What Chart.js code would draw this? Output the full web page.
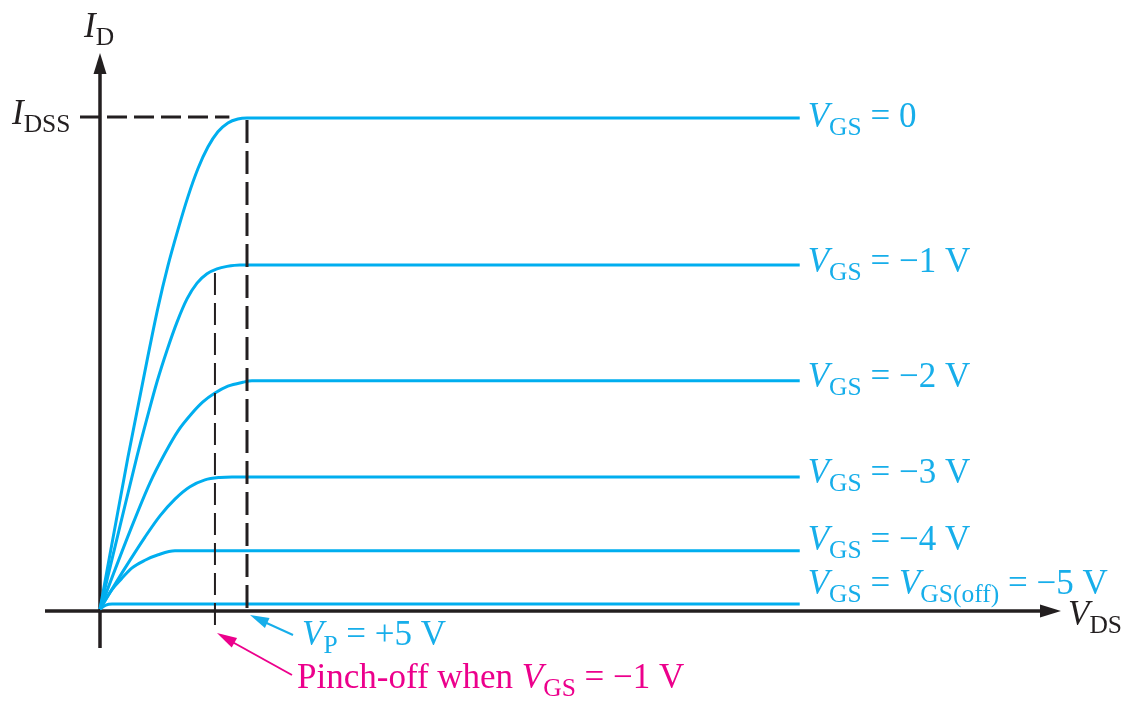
<!DOCTYPE html>
<html>
<head>
<meta charset="utf-8">
<script src="https://cdn.jsdelivr.net/npm/chart.js@4.4.1/dist/chart.umd.min.js"></script>
<style>
  html, body { margin: 0; padding: 0; background: #fff; }
</style>
</head>
<body>
<canvas id="chart" width="1128" height="701"></canvas>
<script>
// JFET drain characteristics (V_DS in volts, I_D in mA, I_DSS = 10)
const vgsLabels = ["0", "\u22121 V", "\u22122 V", "\u22123 V", "\u22124 V", "\u22125 V"]

const vds0 = [0, 0.95, 1.63, 1.97, 2.31, 2.65, 2.99, 3.33, 3.67, 4.01, 4.35, 4.69, 5.0, 23.8]
const id0  = [0.04, 3.12, 5.17, 6.15, 7.00, 7.73, 8.40, 8.97, 9.41, 9.72, 9.90, 9.98, 10, 10]

const vds1 = [0, 0.68, 1.26, 1.60, 1.94, 2.28, 2.62, 2.96, 3.30, 3.64, 3.98, 4.32, 4.76, 23.8]
const id1  = [0.04, 1.72, 3.14, 3.91, 4.65, 5.29, 5.86, 6.33, 6.65, 6.84, 6.94, 6.99, 7.02, 7.02]

const vds2 = [0, 1.02, 1.70, 2.21, 2.65, 3.10, 3.50, 3.91, 4.35, 4.86, 5.17, 23.8]
const id2  = [0.04, 1.62, 2.60, 3.20, 3.65, 3.99, 4.24, 4.42, 4.56, 4.64, 4.67, 4.67]

const vds3 = [0, 0.85, 1.53, 2.04, 2.55, 3.06, 3.57, 4.08, 4.49, 23.8]
const id3  = [0.04, 0.87, 1.50, 1.93, 2.27, 2.52, 2.66, 2.71, 2.72, 2.72]

const vds4 = [0, 0.40, 0.74, 1.08, 1.53, 1.98, 2.55, 23.8]
const id4  = [0.04, 0.43, 0.66, 0.87, 1.03, 1.14, 1.22, 1.22]

const vds5 = [0, 0.20, 0.41, 23.8]
const id5  = [0.04, 0.12, 0.14, 0.14]

const idss = 10        // mA
const vp = 5           // V
const pinchVds1 = 3.91 // pinch-off point for V_GS = -1 V
const vdsEnd = 23.8

// layout
const originX = 100, originY = 611, pxPerV = 29.4, pxPerMA = 49.3
const blue = "#00aeef", textBlue = "#17aeea", ink = "#231f20", magenta = "#ec008c"
const serif = "'Liberation Serif', 'Times New Roman', serif"

const curves = [[vds0, id0], [vds1, id1], [vds2, id2], [vds3, id3], [vds4, id4], [vds5, id5]]
const datasets = curves.map(([xs, ys], i) => ({
  label: "VGS = " + vgsLabels[i],
  data: xs.map((v, k) => ({ x: v, y: ys[k] })),
  borderColor: blue,
  borderWidth: 3,
  pointRadius: 0,
  cubicInterpolationMode: "monotone",
  fill: false
}))

function drawRich(ctx, x, y, parts, color) {
  ctx.fillStyle = color
  ctx.textAlign = "left"
  ctx.textBaseline = "alphabetic"
  parts.forEach(p => {
    let size = p.sub ? 25.5 : 35
    ctx.font = (p.it ? "italic " : "") + size + "px " + serif
    ctx.fillText(p.t, x, y + (p.sub ? 8 : 0))
    x += ctx.measureText(p.t).width
  })
}

function arrowHead(ctx, fx, fy, tx, ty, len, half) {
  const a = Math.atan2(ty - fy, tx - fx)
  const bx = tx - len * Math.cos(a), by = ty - len * Math.sin(a)
  ctx.beginPath()
  ctx.moveTo(tx, ty)
  ctx.lineTo(bx + half * Math.sin(a), by - half * Math.cos(a))
  ctx.lineTo(bx - half * Math.sin(a), by + half * Math.cos(a))
  ctx.closePath()
  ctx.fill()
}

function seg(ctx, x1, y1, x2, y2) {
  ctx.beginPath()
  ctx.moveTo(x1, y1)
  ctx.lineTo(x2, y2)
  ctx.stroke()
}

const sketch = {
  id: "sketch",
  beforeDatasetsDraw(chart) {
    const { ctx, scales: { x, y } } = chart
    const x0 = x.getPixelForValue(0), y0 = y.getPixelForValue(0)
    ctx.save()
    ctx.strokeStyle = ink
    ctx.fillStyle = ink
    ctx.lineWidth = 3.5
    // I_D axis
    seg(ctx, x0, y0 + 37, x0, 72)
    arrowHead(ctx, x0, y0, x0, 53, 21, 6.5)
    // V_DS axis
    seg(ctx, x0 - 55, y0, 1042, y0)
    arrowHead(ctx, x0, y0, 1061, y0, 21, 6.5)
    ctx.restore()
  },
  afterDatasetsDraw(chart) {
    const { ctx, scales: { x, y } } = chart
    const X = v => x.getPixelForValue(v), Y = v => y.getPixelForValue(v)
    ctx.save()
    ctx.strokeStyle = ink
    // I_DSS level and V_P
    ctx.lineWidth = 3
    ctx.setLineDash([20, 7])
    seg(ctx, X(0) - 20, Y(idss) - 1, X(4.4), Y(idss) - 1)
    ctx.setLineDash([23, 8])
    seg(ctx, X(vp), Y(idss) + 2, X(vp), Y(0) + 1)
    // pinch-off for V_GS = -1 V
    ctx.lineWidth = 2
    ctx.setLineDash([22, 8])
    seg(ctx, X(pinchVds1), Y(id1[id1.length - 1]) + 8, X(pinchVds1), Y(0) + 17)
    ctx.setLineDash([])

    // curve labels
    const lx = X(vdsEnd) + 8
    const dy = [9, 7, 6, 6, -1, -10]
    vgsLabels.forEach((lab, i) => {
      const level = curves[i][1][curves[i][1].length - 1]
      let parts = [{ t: "V", it: true }, { t: "GS", sub: true }, { t: " = " }]
      if (i === 5) parts.push({ t: "V", it: true }, { t: "GS(off)", sub: true }, { t: " = " })
      parts.push({ t: lab })
      drawRich(ctx, lx, Y(level) + dy[i], parts, textBlue)
    })

    // axis titles
    drawRich(ctx, 1068, Y(0) + 14, [{ t: "V", it: true }, { t: "DS", sub: true }], ink)
    drawRich(ctx, X(0) - 16, 37, [{ t: "I", it: true }, { t: "D", sub: true }], ink)
    drawRich(ctx, 12, Y(idss) + 6, [{ t: "I", it: true }, { t: "DSS", sub: true }], ink)

    // V_P annotation
    ctx.strokeStyle = textBlue
    ctx.fillStyle = textBlue
    ctx.lineWidth = 2
    const tipX = X(vp) + 3, tipY = Y(0) + 4
    seg(ctx, tipX + 43, tipY + 20, tipX + 10, tipY + 5)
    arrowHead(ctx, tipX + 43, tipY + 20, tipX, tipY, 19, 5.5)
    drawRich(ctx, 302, Y(0) + 34, [{ t: "V", it: true }, { t: "P", sub: true }, { t: " = +5 V" }], textBlue)

    // pinch-off annotation
    ctx.strokeStyle = magenta
    ctx.fillStyle = magenta
    const pX = X(pinchVds1) + 2, pY = Y(0) + 22
    seg(ctx, pX + 75, pY + 42, pX + 10, pY + 6)
    arrowHead(ctx, pX + 75, pY + 42, pX, pY, 20, 5.5)
    drawRich(ctx, 297, Y(0) + 77, [{ t: "Pinch-off when " }, { t: "V", it: true }, { t: "GS", sub: true }, { t: " = \u22121 V" }], magenta)
    ctx.restore()
  }
}

new Chart(document.getElementById("chart"), {
  type: "line",
  data: { datasets },
  options: {
    responsive: false,
    animation: false,
    layout: { padding: 0 },
    scales: {
      x: { type: "linear", display: false, min: -originX / pxPerV, max: (1128 - originX) / pxPerV },
      y: { type: "linear", display: false, min: -(701 - originY) / pxPerMA, max: originY / pxPerMA }
    },
    plugins: { legend: { display: false }, tooltip: { enabled: false } }
  },
  plugins: [sketch]
})
</script>
</body>
</html>
